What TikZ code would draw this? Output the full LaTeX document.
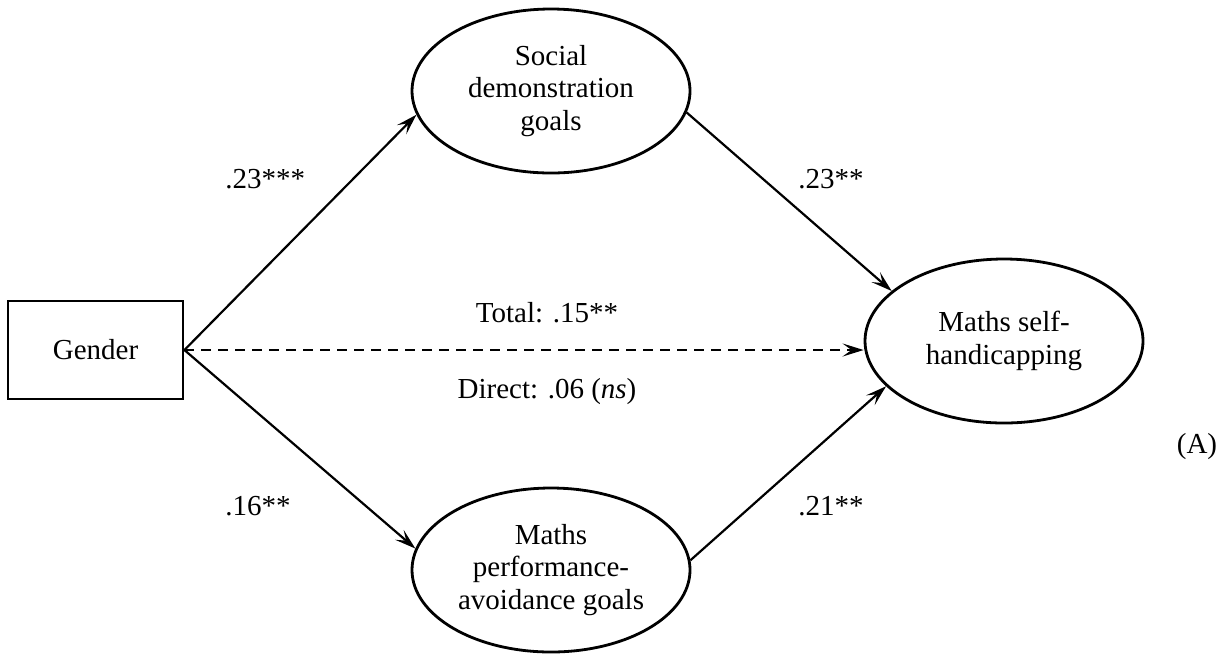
\documentclass[tikz,border=0pt]{standalone}
\usepackage{fontspec}
\setmainfont{Liberation Serif}
\usepackage{tikz}
\usetikzlibrary{positioning,arrows.meta,shapes.geometric}
\tikzset{
  fig-font/.style={font=\fontsize{14.5pt}{16.25pt}\selectfont},
  node-obs/.style={draw=black,line width=1.4pt,minimum width=87.5pt,
    minimum height=49pt,inner sep=0pt,align=center,fig-font},
  node-lat/.style={draw=black,line width=1.4pt,ellipse,minimum width=139pt,
    minimum height=82pt,inner sep=0pt,align=center,fig-font},
  arrow/.style={-{Stealth[length=10.5pt,width=6.5pt,inset=4.5pt]},line width=1.1pt,draw=black},
  arrow-total/.style={arrow,line width=1.3pt,dash pattern=on 5pt off 3.5pt},
  coef/.style={anchor=base west,inner sep=0pt,fig-font},
  coef-mid/.style={anchor=base,inner sep=0pt,fig-font},
}

\begin{document}
\begin{tikzpicture}[x=0.5pt,y=-0.5pt,on grid]
  \useasboundingbox (0,0) rectangle (1225,655);
  % mediation model
  \node[node-obs] (gender) at (95.5,350) {Gender};
  \node[node-lat,above right=129.5pt and 227.75pt of gender] (social)
    {Social\\demonstration\\goals};
  \node[node-lat,below right=110pt and 227.75pt of gender] (perf)
    {Maths\\performance-\\avoidance goals};
  \node[node-lat,above right=4.5pt and 454.25pt of gender] (selfhc)
    {Maths self-\\handicapping};
  \draw[arrow] (gender.east) -- (social.190);
  \draw[arrow] (social.351) -- (selfhc.156);
  \draw[arrow] (gender.east) -- (perf.171);
  \draw[arrow] (perf.4) -- (selfhc.201);
  \draw[arrow-total] (gender.east) -- (gender.east -| selfhc.west);
  % coefficients
  \node[coef] (c-gs) at (225,188) {.23***};
  \node[coef] (c-sh) at (798,188) {.23**};
  \node[coef] (c-gp) at (225,515) {.16**};
  \node[coef] (c-ph) at (798,515) {.21**};
  \node[coef-mid] (c-tot) at (547,322) {Total: .15**};
  \node[coef-mid] (c-dir) at (547,398) {Direct: .06 (\textit{ns})};
  \node[coef-mid] (panel) at (1197,453) {(A)};
\end{tikzpicture}
\end{document}
